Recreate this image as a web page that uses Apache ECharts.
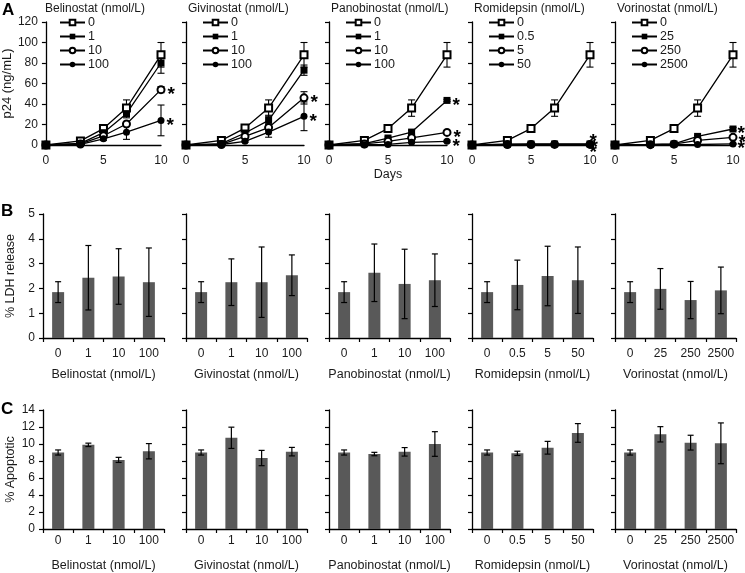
<!DOCTYPE html>
<html><head><meta charset="utf-8">
<script src="https://cdn.jsdelivr.net/npm/echarts@6/dist/echarts.min.js"></script>
<style>html,body{margin:0;padding:0;background:#fff}#c{width:745px;height:573px}</style>
</head><body><div id="c"></div>
<script>
// ---------- DATA ----------
const days = [0, 3, 5, 7, 10];
const drugs = ['Belinostat', 'Givinostat', 'Panobinostat', 'Romidepsin', 'Vorinostat'];
const dosesBelinostat = ['0', '1', '10', '100'];
const dosesGivinostat = ['0', '1', '10', '100'];
const dosesPanobinostat = ['0', '1', '10', '100'];
const dosesRomidepsin = ['0', '0.5', '5', '50'];
const dosesVorinostat = ['0', '25', '250', '2500'];

// Panel A: p24 (ng/mL) per dose (rows) per day (cols)
const p24Belinostat = [[0, 4, 16, 36, 88], [0, 1.5, 12, 30.5, 80], [0, 1, 9, 20.5, 54], [0, 0.5, 6, 12.5, 24]];
const p24BelinostatErr = [[0, 1, 3, 8, 12], [0, 0.5, 2, 4, 10], [0, 0.5, 1.5, 2, 3], [0, 0.3, 1.5, 7, 15]];
const p24Givinostat = [[0, 4.5, 16.5, 36, 88], [0, 1.3, 11.7, 24, 73], [0, 0.5, 8.4, 17, 46], [0, 0.5, 3.6, 12.6, 28]];
const p24GivinostatErr = [[0, 1, 3, 8, 12], [0, 0.5, 2, 5, 5], [0, 0.3, 1.5, 3, 6], [0, 0.3, 1, 5, 14]];
const p24Panobinostat = [[0, 4.5, 16, 36, 88], [0, 1.3, 6.8, 12.6, 43.5], [0, 1, 3.6, 7, 12.3], [0, 0.3, 0.6, 2.6, 3.6]];
const p24PanobinostatErr = [[0, 1, 3, 8, 12], [0, 0.5, 1, 2, 1], [0, 0.3, 1, 1, 1], [0, 0.3, 0.5, 0.5, 1]];
const p24Romidepsin = [[0, 4.5, 16, 36, 88], [0, 0.8, 1, 1, 1], [0, 0.5, 0.5, 0.6, 0.6], [0, 0.3, 0.3, 0.4, 0.4]];
const p24RomidepsinErr = [[0, 1, 3, 8, 12], [0, 0.3, 0.3, 0.5, 0.5], [0, 0.2, 0.2, 0.3, 0.3], [0, 0.2, 0.2, 0.2, 0.2]];
const p24Vorinostat = [[0, 4.5, 16, 36, 88], [0, 0.5, 1, 8.4, 15.6], [0, 0.3, 0.8, 4.5, 7.5], [0, 0.2, 0.4, 0.5, 1]];
const p24VorinostatErr = [[0, 1, 3, 8, 12], [0, 0.3, 0.5, 1, 1.5], [0, 0.2, 0.3, 1, 1], [0, 0.2, 0.2, 0.3, 0.5]];
// significance marks at day 10 (1 = '*')
const sigBelinostat = [0, 0, 1, 1];
const sigGivinostat = [0, 0, 1, 1];
const sigPanobinostat = [0, 1, 1, 1];
const sigRomidepsin = [0, 1, 1, 1];
const sigVorinostat = [0, 1, 1, 1];

// Panel B: % LDH release
const ldhBelinostat = [1.85, 2.43, 2.48, 2.25];
const ldhBelinostatErr = [0.42, 1.3, 1.12, 1.38];
const ldhGivinostat = [1.85, 2.25, 2.25, 2.53];
const ldhGivinostatErr = [0.42, 0.94, 1.42, 0.82];
const ldhPanobinostat = [1.85, 2.63, 2.18, 2.33];
const ldhPanobinostatErr = [0.42, 1.16, 1.4, 1.06];
const ldhRomidepsin = [1.85, 2.14, 2.5, 2.33];
const ldhRomidepsinErr = [0.42, 1.0, 1.2, 1.34];
const ldhVorinostat = [1.85, 1.98, 1.53, 1.92];
const ldhVorinostatErr = [0.42, 0.82, 0.75, 0.94];

// Panel C: % Apoptotic
const apoBelinostat = [9.0, 9.9, 8.13, 9.15];
const apoBelinostatErr = [0.3, 0.2, 0.3, 0.9];
const apoGivinostat = [9.0, 10.73, 8.35, 9.1];
const apoGivinostatErr = [0.3, 1.25, 0.9, 0.5];
const apoPanobinostat = [9.0, 8.82, 9.08, 10.0];
const apoPanobinostatErr = [0.3, 0.2, 0.5, 1.45];
const apoRomidepsin = [9.0, 8.9, 9.56, 11.3];
const apoRomidepsinErr = [0.3, 0.25, 0.75, 1.1];
const apoVorinostat = [9.0, 11.14, 10.16, 10.08];
const apoVorinostatErr = [0.3, 0.9, 0.87, 2.4];

// y-axis tick settings
const yA = {min: 0, max: 120, interval: 20};
const yB = {min: 0, max: 5, interval: 1};
const yC = {min: 0, max: 14, interval: 2};

// ---------- BUILD ----------
const doses = [dosesBelinostat, dosesGivinostat, dosesPanobinostat, dosesRomidepsin, dosesVorinostat];
const p24 = [p24Belinostat, p24Givinostat, p24Panobinostat, p24Romidepsin, p24Vorinostat];
const p24Err = [p24BelinostatErr, p24GivinostatErr, p24PanobinostatErr, p24RomidepsinErr, p24VorinostatErr];
const sig = [sigBelinostat, sigGivinostat, sigPanobinostat, sigRomidepsin, sigVorinostat];
const ldh = [ldhBelinostat, ldhGivinostat, ldhPanobinostat, ldhRomidepsin, ldhVorinostat];
const ldhErr = [ldhBelinostatErr, ldhGivinostatErr, ldhPanobinostatErr, ldhRomidepsinErr, ldhVorinostatErr];
const apo = [apoBelinostat, apoGivinostat, apoPanobinostat, apoRomidepsin, apoVorinostat];
const apoErr = [apoBelinostatErr, apoGivinostatErr, apoPanobinostatErr, apoRomidepsinErr, apoVorinostatErr];

const FONT = 'Liberation Sans, Arial, sans-serif';
const TXT = '#1a1a1a';
const AX = '#000';
const symbols = ['emptyRect', 'rect', 'emptyCircle', 'circle'];
const panelLeft = i => 43 + 143 * i;

function errRender(capW, lw) {
  return function (params, api) {
    const x = api.value(0), y = api.value(1), e = api.value(2);
    if (!e) return null;
    const t = api.coord([x, y + e]);
    const b = api.coord([x, Math.max(0, y - e)]);
    const hw = capW / 2;
    const st = {stroke: '#000', lineWidth: lw};
    return {type: 'group', children: [
      {type: 'line', shape: {x1: t[0], y1: t[1], x2: b[0], y2: b[1]}, style: st},
      {type: 'line', shape: {x1: t[0] - hw, y1: t[1], x2: t[0] + hw, y2: t[1]}, style: st},
      {type: 'line', shape: {x1: b[0] - hw, y1: b[1], x2: b[0] + hw, y2: b[1]}, style: st}
    ]};
  };
}

const grid = [], xAxis = [], yAxis = [], series = [], legend = [], title = [];
const axisLine = {show: true, lineStyle: {color: AX, width: 1.3}};
const axisTick = {show: true, inside: false, length: 4, lineStyle: {color: AX, width: 1.2}};
const lbl = {color: TXT, fontSize: 12, fontFamily: FONT};

// sig asterisk offsets (Romidepsin stacked)
const astOffset = [[[0,0],[0,0],[-2,5],[-2,5]],[[0,0],[0,0],[-2,5],[-2,5]],[[0,0],[-2,5],[-2,5],[-2,5]],
  [[0,0],[-8,-2],[-8,3],[-8,8]],[[0,0],[-3,5],[-3,5],[-3,5]]];

// Panel A
for (let i = 0; i < 5; i++) {
  const gi = grid.length;
  grid.push({left: panelLeft(i), top: 22, width: 118, height: 123});
  xAxis.push({type: 'value', gridIndex: gi, min: 0, max: 10, interval: 5,
    axisLine, axisTick: {show: false}, splitLine: {show: false},
    axisLabel: Object.assign({margin: 10}, lbl),
    name: i === 2 ? 'Days' : '', nameLocation: 'middle', nameGap: 20,
    nameTextStyle: {color: TXT, fontSize: 12.5, fontFamily: FONT}});
  yAxis.push(Object.assign({type: 'value', gridIndex: gi, axisLine, axisTick, splitLine: {show: false},
    axisLabel: Object.assign({show: i === 0, margin: 8}, lbl),
    name: i === 0 ? 'p24 (ng/mL)' : '', nameLocation: 'middle', nameGap: 26,
    nameTextStyle: {color: TXT, fontSize: 13, fontFamily: FONT}}, yA));
  title.push({text: drugs[i] + ' (nmol/L)', left: panelLeft(i) + 2, top: 3, padding: 0,
    textStyle: {color: TXT, fontSize: 12, fontWeight: 'normal', fontFamily: FONT}});
  const names = [];
  for (let d = 0; d < 4; d++) {
    const nm = drugs[i] + '|' + doses[i][d];
    names.push(nm);
    series.push({type: 'custom', xAxisIndex: gi, yAxisIndex: gi, z: 1, silent: true,
      renderItem: errRender(7, 1.1),
      data: days.map((t, k) => [t, p24[i][d][k], p24Err[i][d][k]])});
    series.push({type: 'line', name: nm, xAxisIndex: gi, yAxisIndex: gi, z: 3,
      symbol: symbols[d], symbolSize: 7, showAllSymbol: true,
      lineStyle: {color: '#000', width: 1.3}, itemStyle: {color: '#000', borderWidth: 1.1},
      emphasis: {disabled: true},
      data: days.map((t, k) => {
        const v = p24[i][d][k];
        if (k === days.length - 1 && sig[i][d]) {
          return {value: [t, v], label: {show: true, formatter: '*', position: 'right', distance: 4,
            offset: astOffset[i][d], color: '#000', fontSize: 19, fontWeight: 'bold', fontFamily: FONT}};
        }
        return [t, v];
      })});
  }
  legend.push({data: names, orient: 'vertical', left: panelLeft(i) + 16, top: 16, padding: 0,
    itemWidth: 25, itemHeight: 7, itemGap: 1, selectedMode: false,
    formatter: n => n.split('|')[1],
    textStyle: {color: TXT, fontSize: 12.5, fontFamily: FONT, lineHeight: 13, padding: [0, 0, 0, -2]}});
}

// Panels B and C
function barPanel(top, vals, errs, yCfg, yName, labelMargin, nameGap) {
  for (let i = 0; i < 5; i++) {
    const gi = grid.length;
    grid.push({left: panelLeft(i), top: top, width: 121, height: 124});
    xAxis.push({type: 'category', gridIndex: gi, data: doses[i], axisLine,
      axisTick: {show: true, length: 4, lineStyle: {color: AX, width: 1.2}},
      axisLabel: Object.assign({margin: labelMargin, interval: 0}, lbl),
      name: drugs[i] + ' (nmol/L)', nameLocation: 'middle', nameGap: nameGap,
      nameTextStyle: {color: TXT, fontSize: 12.5, fontFamily: FONT}});
    yAxis.push(Object.assign({type: 'value', gridIndex: gi, axisLine, axisTick, splitLine: {show: false},
      axisLabel: Object.assign({show: i === 0, margin: 8}, lbl),
      name: i === 0 ? yName : '', nameLocation: 'middle', nameGap: 26,
      nameTextStyle: {color: TXT, fontSize: 12.5, fontFamily: FONT}}, yCfg));
    series.push({type: 'bar', xAxisIndex: gi, yAxisIndex: gi, barWidth: 12, silent: true,
      itemStyle: {color: '#595959'}, data: vals[i]});
    series.push({type: 'custom', xAxisIndex: gi, yAxisIndex: gi, z: 5, silent: true,
      renderItem: errRender(6, 1.2),
      data: vals[i].map((v, k) => [k, v, errs[i][k]])});
  }
}
barPanel(214, ldh, ldhErr, yB, '% LDH release', 10, 30);
barPanel(410, apo, apoErr, yC, '% Apoptotic', 6, 30);

// Panel letters
const letterStyle = {color: '#000', fontSize: 17, fontWeight: 'bold', fontFamily: FONT};
title.push({text: 'A', left: 2, top: 2, padding: 0, textStyle: letterStyle});
title.push({text: 'B', left: 1, top: 203, padding: 0, textStyle: letterStyle});
title.push({text: 'C', left: 1, top: 401, padding: 0, textStyle: letterStyle});

const chart = echarts.init(document.getElementById('c'), null, {renderer: 'canvas'});
chart.setOption({animation: false, backgroundColor: '#fff', title, legend, grid, xAxis, yAxis, series});
</script>
</body></html>
